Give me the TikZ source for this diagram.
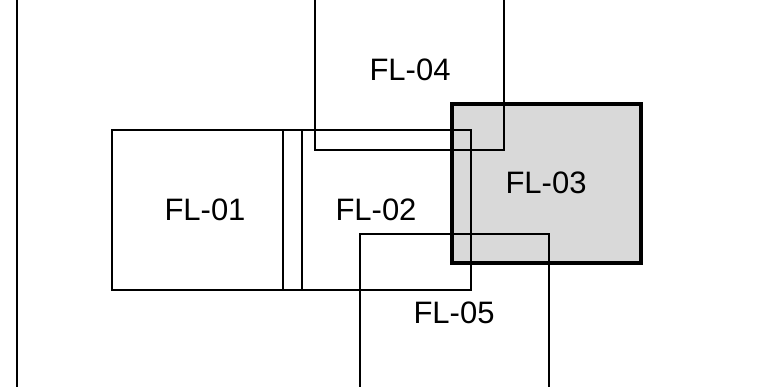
\documentclass[tikz,border=0pt]{standalone}
\usepackage{fontspec}
\setmainfont{Liberation Sans}
\definecolor{fillgray}{RGB}{217,217,217}
\tikzset{
  thinbox/.style={draw=black, line width=1.2pt},
  thickbox/.style={draw=black, line width=3.2pt, line join=miter},
  lbl/.style={font=\fontsize{31}{37}\selectfont, inner sep=0pt}
}
\begin{document}
\begin{tikzpicture}[x=1pt,y=-1pt]
\useasboundingbox (0,0) rectangle (771,386);
% left boundary line
\draw[line width=1.5pt] (17,-2) -- (17,388);
% FL-03 fill
\fill[fillgray] (452,104) rectangle (641,263);
% FL-01
\draw[thinbox] (112,130) rectangle (283,290);
% strip
\draw[thinbox] (283,130) rectangle (302,290);
% FL-02
\draw[thinbox] (302,130) rectangle (471,290);
% FL-04
\draw[thinbox] (315,-5) rectangle (504,150);
% FL-05
\draw[thinbox] (360,234) rectangle (549,391);
% FL-03 border
\draw[thickbox] (452,104) rectangle (641,263);
% labels
\node[lbl] (l1) at (205,210) {FL-01};
\node[lbl] (l2) at (376,210) {FL-02};
\node[lbl] (l3) at (546,183) {FL-03};
\node[lbl] (l4) at (410,70) {FL-04};
\node[lbl] (l5) at (454,313) {FL-05};
\end{tikzpicture}
\end{document}
